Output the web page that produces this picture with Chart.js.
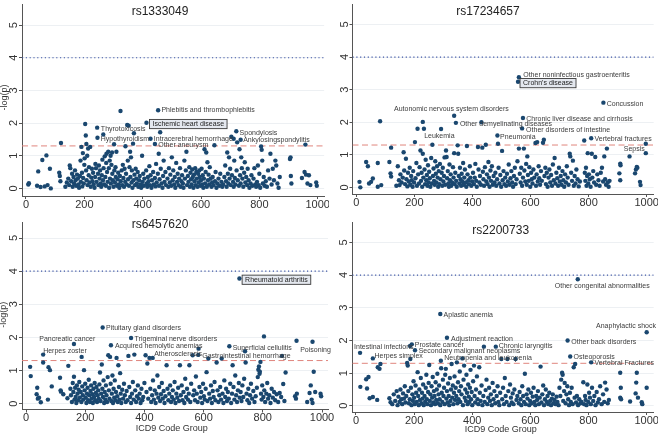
<!DOCTYPE html>
<html>
<head>
<meta charset="utf-8">
<script src="https://cdn.jsdelivr.net/npm/chart.js@4.4.0/dist/chart.umd.min.js"></script>
<style>
  body { margin: 0; background: #fff; width: 658px; height: 436px; overflow: hidden; position: relative; }
  .panel { position: absolute; }
</style>
</head>
<body>
<canvas class="panel" id="c0"></canvas>
<canvas class="panel" id="c1"></canvas>
<canvas class="panel" id="c2"></canvas>
<canvas class="panel" id="c3"></canvas>
<script>
// ---- data ----
const xTicks = [0, 200, 400, 600, 800, 1000];
const yTicks = [0, 1, 2, 3, 4, 5];
const bonferroniLine = 4;
const suggestiveLine = 1.3;

// rs1333049
const rs1333049Points = [
  [8,0.12],[10,0.16],[38,0.08],[42,0.52],[50,0.04],[56,0.87],[64,0.06],[70,1.01],[74,0.1],[82,0.6],[85,0.0],[114,0.48],[116,0.38],[118,0.22],[120,1.39],
  [135,0.05],[140,0.18],[145,0.3],[148,0.1],[150,0.7],[152,0.62],[155,0.22],[158,0.45],[160,0.05],[163,0.35],[165,0.15],[168,0.55],[170,0.25],[172,0.08],[175,0.42],[178,0.3],[180,0.12],[182,0.02],[185,0.38],[187,0.85],[188,0.2],[190,1.27],[192,0.48],[193,0.06],[195,1.08],[196,0.32],[198,0.15],[200,0.72],[201,0.92],[203,1.97],[205,1.62],[206,0.55],[207,1.36],[208,0.25],[210,1.0],[211,0.1],[213,1.22],[215,0.4],[216,0.65],[218,0.18],[220,1.27],[222,0.05],[224,0.33],[226,0.6],[228,0.22],[230,0.48],[232,0.12],[235,0.02],[237,0.35],[238,0.75],[240,0.62],[242,0.2],[247,0.45],[248,0.1],[250,0.7],[252,0.3],[254,0.55],[256,0.15],[258,0.05],[260,0.4],[262,0.88],[264,0.25],[265,1.65],[266,0.62],[268,0.12],[270,0.98],[272,0.35],[274,0.08],[275,0.78],[276,1.06],[278,0.5],[280,0.2],[282,1.12],[284,0.62],[285,0.02],[287,0.85],[288,0.3],[290,1.0],[291,0.15],[293,0.72],[295,1.1],[296,0.45],[298,0.25],[300,0.05],[302,1.35],[303,0.55],[305,0.18],[307,0.65],[308,0.35],[310,1.12],[312,0.08],[314,0.28],[316,0.48],[318,0.12],
  [320,0.02],[322,0.38],[324,2.37],[325,0.22],[328,0.55],[330,0.1],[332,0.72],[334,0.32],[336,0.05],[338,0.6],[340,0.2],[341,1.29],[343,0.45],[345,0.12],[347,1.94],[349,0.85],[350,0.28],[352,1.92],[353,0.08],[355,0.65],[357,1.12],[358,0.35],[360,0.95],[362,0.18],[363,0.55],[365,0.02],[367,1.37],[368,0.25],[370,1.69],[372,0.42],[374,0.1],[376,0.6],[378,0.3],[380,0.15],[383,0.5],[385,0.05],[388,0.25],[390,0.38],[393,0.12],[395,0.02],[398,1.0],[400,0.2],[402,0.45],[404,0.08],[406,0.3],[412,0.55],[414,0.15],[416,0.05],[418,0.35],[420,0.22],[423,0.68],[425,0.1],[427,0.4],[430,0.02],[432,0.25],[436,0.5],[438,0.12],[442,0.32],[444,0.06],[446,0.75],[448,0.18],[452,0.45],[455,1.06],[456,0.08],[458,0.28],[460,1.72],[462,0.6],[465,0.15],[468,0.02],[470,0.38],[472,0.85],[475,0.2],[478,0.5],[480,0.1],
  [485,0.3],[488,0.05],[490,0.62],[493,0.18],[495,0.42],[498,0.08],[500,0.95],[503,0.25],[505,0.55],[508,0.12],[510,0.35],[512,0.02],[515,0.78],[518,0.2],[520,0.45],[523,0.1],[525,0.3],[528,0.62],[530,0.05],[533,0.22],[535,0.4],[538,0.15],[540,0.02],[543,0.85],[545,0.3],[548,0.55],[550,1.12],[552,0.1],[555,0.38],[557,0.2],[560,0.65],[562,0.05],[564,0.48],[566,0.28],[568,0.12],[570,0.58],[572,0.35],[574,0.02],[576,0.42],[578,0.22],[580,0.62],[582,0.1],[584,0.5],[586,0.3],[588,0.05],[590,0.45],[592,0.18],[594,0.55],[596,0.35],[598,0.08],[600,0.25],[602,0.6],[604,0.12],[606,0.4],[608,0.02],[610,0.3],[612,1.2],[614,0.15],[616,0.5],[618,1.1],[620,0.05],[622,0.8],[624,0.25],[626,0.42],[628,0.12],[630,0.65],[633,0.3],[636,0.05],[638,0.18],[640,0.35],[643,0.1],[646,1.32],[648,0.22],[650,0.5],[653,0.02],[656,0.15],[660,0.3],[663,0.08],[666,0.45],[670,0.2],[673,0.05],[676,0.12],[680,0.35],[683,0.7],[686,0.22],[688,0.05],[690,1.1],[692,0.45],[694,0.15],[696,0.95],[698,0.3],[700,0.6],[702,0.1],[704,1.58],[706,0.4],[710,0.2],[712,1.52],[712,0.05],
  [714,0.85],[716,0.32],[718,0.12],[722,0.55],[724,1.41],[726,0.25],[730,0.08],[732,1.2],[734,0.4],[736,0.15],[738,0.95],[740,0.62],[742,0.3],[745,0.05],[748,0.48],[750,0.8],[752,0.18],[755,0.35],[758,0.1],[760,0.6],[763,0.25],[766,0.02],[770,0.15],[773,0.4],[776,0.08],[780,0.3],[783,0.62],[786,0.12],[789,0.05],[792,0.2],[795,0.7],[798,0.1],[800,0.45],[803,0.02],[806,1.28],[808,1.18],[810,0.85],[812,0.15],[815,0.35],[818,0.08],[822,0.22],[826,0.05],[830,0.55],[835,0.3],[838,1.06],[842,0.12],[846,0.6],[850,0.25],[855,0.85],[858,0.7],[862,0.15],[866,0.02],[870,0.35],[905,0.9],[907,0.95],[908,0.38],[910,0.15],[946,0.32],[955,0.5],[958,1.34],[960,0.42],[965,0.15],[970,0.4],[975,0.1],[995,0.18],[997,0.08]
];
const rs1333049Hits = [
  { name: 'Phlebitis and thrombophlebitis', x: 453, y: 2.39 },
  { name: 'Ischemic heart disease', x: 413, y: 2.01 },
  { name: 'Thyrotoxicosis', x: 244, y: 1.86 },
  { name: 'Hypothyroidism', x: 245, y: 1.55 },
  { name: 'Intracerebral hemorrhage', x: 427, y: 1.52 },
  { name: 'Other aneurysm', x: 442, y: 1.36 },
  { name: 'Spondylosis', x: 721, y: 1.75 },
  { name: 'Ankylosingspondylitis', x: 736, y: 1.49 }
];

// rs17234657
const rs17234657Points = [
  [11,0.17],[14,0.0],[34,0.78],[40,0.65],[44,0.12],[51,0.17],[57,0.27],[74,0.75],[74,0.02],[82,2.03],[86,0.07],[114,0.78],[118,0.43],[120,1.22],[120,0.33],
  [138,0.05],[143,0.65],[147,0.22],[149,0.07],[152,0.4],[156,0.15],[160,0.3],[163,1.08],[165,0.52],[168,0.1],[171,0.88],[173,0.25],[176,0.03],[178,0.45],[181,0.18],[184,0.6],[186,0.08],[189,0.35],[191,0.22],[194,0.02],[196,0.5],[199,0.15],[202,1.39],[204,0.28],[207,0.75],[209,0.05],[211,1.8],[213,0.4],[216,0.12],[218,0.62],[221,1.13],[223,0.2],[225,0.45],[227,0.02],[229,2.01],[229,1.03],[231,0.3],[233,1.8],[235,0.55],[237,0.1],[239,0.85],[241,0.22],[243,0.38],[245,0.05],[247,0.68],[249,0.15],[251,0.48],[253,0.28],[255,0.02],[258,0.9],[260,0.12],[264,0.35],[266,0.58],[268,0.2],[270,0.08],[272,0.8],[274,0.42],[276,0.15],[278,0.65],[280,0.3],[282,0.02],[284,0.5],[286,0.1],[288,0.72],[290,0.25],[292,1.79],[294,0.45],[296,0.05],[298,0.6],[300,0.18],[302,0.35],[304,0.92],[306,0.08],[309,1.13],[311,0.93],[313,0.28],[315,0.5],[317,0.12],[319,0.02],[321,0.7],[323,0.22],[325,0.4],[327,0.05],[330,0.15],[333,0.62],[335,0.3],[337,1.05],[339,0.1],[341,0.45],[344,0.2],[346,0.02],[349,1.29],[351,1.03],[353,0.35],[355,0.12],[357,0.6],[359,0.25],[361,0.05],[363,0.42],[365,0.18],[368,0.75],[370,0.08],[372,0.3],[374,0.55],[377,0.15],[379,0.02],[381,1.27],[383,0.4],[386,0.22],[388,0.1],[391,0.65],[393,0.3],[396,0.05],[399,0.18],
  [402,0.45],[405,0.1],[408,0.3],[410,0.72],[413,0.2],[415,0.02],[419,1.24],[421,0.55],[424,0.15],[426,0.35],[429,0.08],[431,2.0],[434,1.22],[436,0.48],[438,0.25],[440,0.05],[443,0.62],[446,1.31],[448,0.18],[450,0.4],[452,0.1],[455,0.78],[457,0.3],[459,0.02],[462,0.52],[464,0.2],[467,0.65],[470,0.08],[473,0.35],[476,0.15],[479,0.45],[482,0.05],[485,0.25],[488,1.34],[490,0.6],[493,0.12],[496,0.38],[499,0.02],[502,1.12],[504,0.22],[507,0.5],[510,0.1],[513,0.3],[516,0.05],[519,0.42],[522,0.18],[525,0.7],[528,0.08],[531,0.28],[534,0.5],[537,0.15],[540,0.02],[543,0.35],[546,0.6],[549,0.1],[552,0.25],[555,0.8],
  [560,1.19],[563,0.42],[566,0.15],[568,0.6],[571,0.05],[574,0.3],[577,1.19],[579,0.52],[582,0.18],[585,0.72],[587,0.08],[589,0.95],[591,0.38],[594,0.2],[596,0.62],[599,0.02],[602,0.45],[604,0.25],[607,0.12],[610,0.55],[613,0.3],[617,1.36],[619,0.05],[621,0.4],[623,1.39],[625,0.18],[628,0.65],[630,0.28],[633,0.08],[636,0.5],[639,0.2],[643,1.37],[646,1.46],[648,0.35],[651,0.6],[653,0.1],[656,0.45],[659,0.02],[662,0.3],[665,0.55],[668,0.15],[671,0.38],[674,0.05],[677,0.7],[680,0.22],[683,0.9],[686,0.12],[689,0.45],[692,0.28],[695,0.05],[698,0.6],[701,0.18],[704,0.35],[707,0.08],[710,0.5],[713,0.22],[716,0.02],[719,0.4],[722,0.15],[725,0.65],[728,0.3],[731,0.08],[735,1.03],[737,0.95],[740,0.45],[743,0.2],[746,0.82],[749,0.05],[752,0.35],[755,0.12],[758,0.55],[762,0.25],[766,0.03],[770,0.18],
  [785,1.44],[787,0.45],[789,0.2],[791,0.6],[793,0.05],[795,0.35],[797,1.05],[799,0.12],[801,0.4],[804,0.25],[807,0.02],[811,1.03],[813,0.3],[816,0.5],[819,0.15],[823,0.93],[826,0.08],[830,0.4],[834,0.22],[838,0.05],[842,0.45],[846,0.6],[850,0.18],[854,0.95],[857,0.25],[860,0.08],[863,1.19],[866,0.15],[869,0.02],[872,0.2],[906,0.43],[909,0.73],[910,0.68],[909,0.22],[941,0.95],[960,0.43],[963,0.55],[966,0.63],[968,0.6],[977,0.17],[979,0.07],[997,1.05]
];
const rs17234657Hits = [
  { name: 'Other noninfectious gastroenteritis', x: 560, y: 3.38 },
  { name: "Crohn's disease", x: 557, y: 3.24 },
  { name: 'Concussion', x: 851, y: 2.6 },
  { name: 'Autonomic nervous system disorders', x: 337, y: 2.2 },
  { name: 'Other demyelinating diseases', x: 343, y: 1.98 },
  { name: 'Chronic liver disease and cirrhosis', x: 574, y: 2.13 },
  { name: 'Other disorders of intestine', x: 571, y: 1.81 },
  { name: 'Leukemia', x: 262, y: 1.31 },
  { name: 'Pneumonia', x: 486, y: 1.59 },
  { name: 'Vertebral fractures', x: 809, y: 1.51 },
  { name: 'Sepsis', x: 997, y: 1.34 }
];

// rs6457620
const rs6457620Points = [
  [14,1.11],[16,0.83],[36,0.28],[38,0.48],[40,0.15],[44,0.18],[50,0.04],[58,1.24],[74,0.12],[76,1.1],[81,1.01],[87,0.52],[115,0.78],[117,0.4],[118,0.36],[126,0.28],[140,0.16],[143,1.14],
  [150,0.45],[152,0.25],[155,0.05],[158,0.62],[160,0.35],[162,0.81],[164,0.12],[166,0.48],[168,0.2],[170,0.02],[172,0.55],[174,0.3],[176,0.1],[178,0.42],[180,0.65],[182,0.18],[185,0.35],[187,0.05],[188,1.41],[190,0.52],[192,0.25],[194,0.12],[196,1.01],[198,0.4],[200,0.6],[202,0.18],[204,0.02],[206,0.3],[208,0.48],[210,0.1],[212,0.72],[214,0.25],[216,0.05],[218,0.38],[220,0.55],[222,0.15],[224,0.28],[226,0.02],[228,0.45],[230,0.2],[232,0.62],[234,0.1],[236,0.32],[238,0.5],[240,0.05],[242,0.25],[244,0.4],[246,0.15],[248,0.58],[250,0.94],[252,0.08],[254,0.3],[256,1.18],[258,0.45],[260,0.2],[262,0.7],[264,0.02],[266,0.35],[268,0.12],[270,0.55],[272,0.25],[274,0.05],[276,0.8],[278,1.46],[280,0.4],[282,0.15],[284,1.41],[286,0.6],[288,0.08],[290,0.3],[292,0.85],[294,0.02],[296,0.45],[298,0.18],[300,0.7],[302,0.1],[304,0.35],[306,1.38],[308,0.22],[310,0.05],[312,1.16],[314,0.5],[316,0.12],[318,0.92],[320,0.3],[322,0.02],[325,0.42],[328,0.15],[331,0.6],[334,0.25],[337,0.05],[340,0.38],[343,0.1],[346,1.44],[349,0.5],[352,0.2],[355,0.02],[358,0.3],[361,0.65],[364,0.12],[366,1.48],[369,0.4],[372,0.05],[375,0.22],[378,0.55],[381,0.15],[384,0.3],[387,0.02],[390,0.45],[393,0.1],[396,0.2],[400,0.62],
  [404,1.46],[407,0.35],[410,1.21],[413,0.15],[417,1.38],[420,0.45],[423,0.05],[426,0.25],[429,0.7],[432,0.12],[435,0.4],[438,0.02],[441,0.3],[444,0.85],[447,0.18],[450,0.5],[453,0.08],[456,0.28],[459,0.62],[462,0.15],[465,0.38],[468,0.02],[471,0.22],[475,1.16],[478,0.45],[481,0.1],[484,0.3],[487,0.55],[490,0.05],[493,0.2],[496,0.4],[499,0.12],[502,0.65],[505,0.02],[508,0.3],[511,0.18],[514,0.48],[517,0.08],[520,1.16],[523,0.25],[526,0.55],[529,0.1],[532,0.35],[535,0.02],[538,0.75],[541,0.2],[544,0.45],[547,0.12],[550,0.3],[552,1.16],[555,0.05],[558,0.6],
  [563,1.46],[565,0.25],[568,0.4],[571,0.1],[574,0.82],[577,0.3],[580,0.05],[583,1.66],[586,0.5],[589,0.18],[592,0.35],[595,0.02],[598,0.6],[601,0.22],[604,0.12],[607,0.45],[610,0.95],[613,0.08],[616,1.36],[619,0.3],[622,0.15],[625,0.55],[628,0.02],[631,0.38],[634,0.2],[637,0.65],[640,0.1],[644,1.24],[647,0.4],[650,0.05],[653,0.25],[656,0.5],[659,0.12],[661,1.36],[664,0.3],[667,0.02],[670,0.7],[673,0.2],[676,0.45],[679,0.08],[682,0.35],[685,0.15],[690,0.6],[693,0.02],[696,0.3],[698,1.16],[701,0.5],[704,0.12],[707,0.85],[710,0.25],[713,0.05],[716,0.4],[719,0.62],[722,0.18],[725,0.35],[728,0.08],[731,0.55],[734,0.2],[737,0.75],[740,1.58],[742,1.24],[745,0.3],[748,0.1],[751,0.45],[754,0.02],[757,0.25],[760,0.6],[764,0.15],[768,0.38],[772,0.05],[776,0.22],[780,0.48],[783,0.8],[785,1.02],[787,1.12],[789,0.9],[790,0.96],[792,1.26],[794,0.3],[796,0.12],[798,0.55],
  [802,0.2],[804,2.03],[805,0.4],[808,0.05],[812,0.3],[815,0.62],[818,0.15],[822,0.25],[826,0.02],[830,0.45],[834,0.18],[838,0.35],[842,0.1],[847,0.28],[852,0.05],[857,0.32],[862,0.2],[865,1.44],[869,0.59],[873,0.08],[877,0.94],[909,0.22],[912,0.15],[914,1.9],[915,0.3],[950,0.05],[958,0.32],[962,0.55],[965,0.12],[968,0.02],[972,0.96],[977,0.35],[995,0.3],[997,0.22]
];
const rs6457620Hits = [
  { name: 'Rheumatoid arthritis', x: 721, y: 3.78 },
  { name: 'Pituitary gland disorders', x: 259, y: 2.3 },
  { name: 'Pancreatic cancer', x: 162, y: 1.8 },
  { name: 'Herpes zoster', x: 58, y: 1.48 },
  { name: 'Trigeminal nerve disorders', x: 355, y: 1.98 },
  { name: 'Acquired hemolytic anemias', x: 287, y: 1.76 },
  { name: 'Atherosclerosis', x: 428, y: 1.38 },
  { name: 'Gastrointestinal hemorrhage', x: 582, y: 1.47 },
  { name: 'Superficial cellulitis', x: 687, y: 1.73 },
  { name: 'Poisoning', x: 968, y: 1.87 }
];

// rs2200733
const rs2200733Points = [
  [15,0.58],[35,0.81],[38,0.53],[43,0.88],[47,0.23],[58,0.27],[73,0.18],[75,1.18],[81,1.13],[84,1.28],[115,0.23],[119,0.11],
  [125,0.05],[130,0.35],[135,0.15],[140,0.45],[143,0.02],[146,0.28],[150,0.12],[153,0.5],[156,0.2],[159,0.05],[162,0.38],[165,0.22],[168,0.6],[170,0.1],[173,0.3],[176,1.31],[178,1.23],[180,0.45],[182,0.08],[185,0.2],[186,1.83],[187,1.43],[189,0.55],[191,0.02],[194,0.35],[196,0.15],[198,0.75],[200,0.25],[202,0.05],[205,0.62],[207,0.4],[209,0.12],[212,1.03],[214,0.3],[216,0.02],[218,0.5],[220,0.18],[223,0.85],[225,0.08],[227,0.4],[229,0.22],[231,0.65],[233,0.02],[236,0.3],[238,0.12],[240,0.55],[242,0.95],[244,0.2],[246,0.05],[248,0.42],[250,0.7],[252,1.25],[254,0.15],[256,0.35],[258,0.02],[260,0.6],[262,0.25],[264,0.88],[266,0.1],[268,0.45],[270,0.3],[272,0.05],[274,0.72],[276,0.18],[278,0.5],[280,0.98],[282,0.08],[284,0.35],[286,0.62],[288,0.2],[290,0.02],[293,1.15],[295,0.4],[297,0.12],[299,0.8],[301,0.3],[303,0.55],[305,0.05],[307,0.95],[309,1.13],[311,0.22],[313,0.45],[315,0.1],[317,0.68],[319,0.3],[321,0.02],[323,0.85],[325,0.15],[327,0.5],[329,1.28],[331,0.25],[333,0.62],[335,0.05],[337,0.4],[339,0.9],[341,0.18],[343,0.55],[345,0.3],[347,1.33],[349,0.08],[351,0.72],[353,0.2],[355,0.45],[357,1.05],[359,0.12],[361,0.6],[363,0.35],[366,1.45],[368,0.02],[370,0.8],[372,1.23],[374,0.25],[376,0.5],[378,0.15],[380,0.95],[382,0.4],[384,0.05],[386,0.65],[388,0.28],[390,0.12],[392,0.55],[394,1.1],[396,0.2],[398,0.42],[400,0.02],
  [403,0.75],[406,1.23],[408,0.3],[410,0.1],[413,0.5],[416,0.9],[418,0.2],[421,0.05],[424,1.18],[426,0.4],[429,0.15],[432,0.62],[435,0.02],[438,0.3],[440,1.81],[443,0.12],[446,0.48],[449,0.8],[452,0.05],[455,0.25],[458,0.55],[461,0.15],[464,0.35],[467,0.02],[470,0.7],[473,0.2],[476,0.45],[479,0.08],[484,0.3],[487,0.6],[490,0.12],[493,0.02],[496,0.4],[500,1.43],[503,0.2],[506,0.55],[509,0.05],[512,0.85],[515,0.3],[518,0.12],[521,1.43],[524,0.45],[527,0.02],[530,0.65],[533,0.25],[536,0.1],[539,0.38],[542,0.05],[545,0.5],[549,1.43],[552,0.18],[555,0.3],
  [560,0.08],[563,0.42],[566,0.2],[569,0.02],[572,0.6],[575,0.3],[578,0.12],[581,0.98],[584,0.05],[587,0.35],[590,0.22],[593,0.5],[596,0.02],[599,0.15],[602,0.4],[605,0.08],[608,0.28],[611,0.55],[614,0.12],[617,0.02],[620,0.3],[623,0.18],[626,0.45],[629,0.05],[632,0.25],[635,1.2],[638,0.1],[641,0.35],[644,0.62],[647,0.02],[650,0.2],[653,0.5],[656,0.12],[659,0.3],[662,0.05],[665,0.4],[668,0.15],[671,0.02],[674,0.22],[677,0.35],[680,0.08],[683,0.18],[687,0.05],[690,0.28],[693,0.12],[697,0.02],[700,0.55],[703,0.3],[706,0.8],[709,1.01],[711,0.95],[713,0.15],[716,0.45],[718,0.7],[721,0.08],[724,0.35],[727,0.6],[730,0.2],[733,0.02],[736,0.4],[739,0.12],[742,0.55],[745,0.05],[749,1.18],[752,0.25],[754,1.28],[757,0.1],[760,0.3],[764,0.02],[768,0.2],[772,0.08],[776,0.12],
  [782,0.72],[785,0.05],[788,0.3],[790,0.18],[793,0.02],[796,0.65],[799,0.12],[802,0.4],[805,0.25],[808,0.05],[812,0.55],[816,0.15],[820,0.3],[824,0.02],[828,0.42],[832,0.1],[836,0.2],[840,0.6],[845,0.05],[850,0.35],[854,0.12],[857,0.71],[862,0.5],[866,0.08],[870,0.18],[909,1.01],[911,0.55],[909,0.25],[912,0.2],[943,0.13],[962,0.38],[964,0.71],[966,1.01],[970,0.25],[983,0.11],[985,0.05],[1000,0.55]
];
const rs2200733Hits = [
  { name: 'Other congenital abnormalities', x: 763, y: 3.87 },
  { name: 'Aplastic anemia', x: 290, y: 2.81 },
  { name: 'Adjustment reaction', x: 313, y: 2.08 },
  { name: 'Anaphylactic shock', x: 1000, y: 2.25 },
  { name: 'Other back disorders', x: 728, y: 2.0 },
  { name: 'Intestinal infections', x: 14, y: 1.62 },
  { name: 'Prostate cancer', x: 192, y: 1.88 },
  { name: 'Secondary malignant neoplasms', x: 203, y: 1.7 },
  { name: 'Herpes simplex', x: 58, y: 1.45 },
  { name: 'Neutropenia and leukopenia', x: 292, y: 1.38 },
  { name: 'Chronic laryngitis', x: 481, y: 1.81 },
  { name: 'Osteoporosis', x: 737, y: 1.51 },
  { name: 'Vertebral Fractures', x: 809, y: 1.33 }
];

// ---- label placement (pixel offsets from the marker, style only) ----
const labelPlacement = {
  'Phlebitis and thrombophlebitis': { align: 'left', dx: 3.3, dy: 0 },
  'Ischemic heart disease': { align: 'left', dx: 6, dy: 1.3, box: true },
  'Thyrotoxicosis': { align: 'left', dx: 3.7, dy: 1.3 },
  'Hypothyroidism': { align: 'left', dx: 3.3, dy: 1 },
  'Intracerebral hemorrhage': { align: 'left', dx: 3.3, dy: 0 },
  'Other aneurysm': { align: 'left', dx: 3.3, dy: 0.7 },
  'Spondylosis': { align: 'left', dx: 3.3, dy: 1.7 },
  'Ankylosingspondylitis': { align: 'left', dx: 2.5, dy: 0 },
  'Other noninfectious gastroenteritis': { align: 'left', dx: 4.3, dy: -2 },
  "Crohn's disease": { align: 'left', dx: 5, dy: 1.3, box: true },
  'Concussion': { align: 'left', dx: 3.3, dy: 1 },
  'Autonomic nervous system disorders': { align: 'center', dx: -2.7, dy: -6.7 },
  'Other demyelinating diseases': { align: 'left', dx: 4, dy: 1.3 },
  'Chronic liver disease and cirrhosis': { align: 'left', dx: 3.3, dy: 1 },
  'Other disorders of intestine': { align: 'left', dx: 4, dy: 1.3 },
  'Leukemia': { align: 'center', dx: 7, dy: -9 },
  'Pneumonia': { align: 'left', dx: 2.7, dy: 1.7 },
  'Vertebral fractures': { align: 'left', dx: 3.3, dy: 1.3 },
  'Sepsis': { align: 'right', dx: -1, dy: 5 },
  'Rheumatoid arthritis': { align: 'left', dx: 5.7, dy: 1.3, box: true },
  'Pituitary gland disorders': { align: 'left', dx: 3.3, dy: 1 },
  'Pancreatic cancer': { align: 'center', dx: -6.7, dy: -5.3 },
  'Herpes zoster': { align: 'left', dx: 0, dy: -4 },
  'Trigeminal nerve disorders': { align: 'left', dx: 3.5, dy: 1 },
  'Acquired hemolytic anemias': { align: 'left', dx: 4, dy: 1 },
  'Atherosclerosis': { align: 'left', dx: 1.5, dy: -4.3 },
  'Gastrointestinal hemorrhage': { align: 'left', dx: 4, dy: 1 },
  'Superficial cellulitis': { align: 'left', dx: 3.3, dy: 1.3 },
  'Poisoning': { align: 'center', dx: 3, dy: 8 },
  'Other congenital abnormalities': { align: 'center', dx: 24.5, dy: 6.5 },
  'Aplastic anemia': { align: 'left', dx: 3.3, dy: 0.7 },
  'Adjustment reaction': { align: 'left', dx: 4, dy: 1 },
  'Anaphylactic shock': { align: 'right', dx: 9.3, dy: -6 },
  'Other back disorders': { align: 'left', dx: 3.7, dy: 1.3 },
  'Intestinal infections': { align: 'left', dx: -6, dy: -6 },
  'Prostate cancer': { align: 'left', dx: 3, dy: 1 },
  'Secondary malignant neoplasms': { align: 'left', dx: 3.7, dy: 0.7 },
  'Herpes simplex': { align: 'left', dx: 1.7, dy: -2.6 },
  'Neutropenia and leukopenia': { align: 'left', dx: 3.4, dy: -2.4 },
  'Chronic laryngitis': { align: 'left', dx: 3, dy: -0.6 },
  'Osteoporosis': { align: 'left', dx: 3.4, dy: 1 },
  'Vertebral Fractures': { align: 'left', dx: 3.4, dy: 1 }
};

// ---- panel layout (canvas-local pixels) ----
const panels = [
  { id: 'c0', title: 'rs1333049', points: rs1333049Points, hits: rs1333049Hits,
    left: 0, top: 0, w: 329, h: 218, area: [22, 325, 2, 196],
    x0: 26, x1000: 318.5, y0: 188.3, y5: 23.3,
    titlePos: [160, 11.7], yTitle: [5, 97.5], xTitle: null },
  { id: 'c1', title: 'rs17234657', points: rs17234657Points, hits: rs17234657Hits,
    left: 329, top: 0, w: 329, h: 218, area: [23.5, 326, 2, 194],
    x0: 27.3, x1000: 319, y0: 187.3, y5: 22.7,
    titlePos: [159, 11.7], yTitle: null, xTitle: null },
  { id: 'c2', title: 'rs6457620', points: rs6457620Points, hits: rs6457620Hits,
    left: 0, top: 218, w: 340, h: 218, area: [22, 328, 1, 191.5],
    x0: 26, x1000: 322, y0: 185.5, y5: 17.3,
    titlePos: [160, 6.7], yTitle: [4, 96.7], xTitle: [171.7, 210.7] },
  { id: 'c3', title: 'rs2200733', points: rs2200733Points, hits: rs2200733Hits,
    left: 329, top: 218, w: 329, h: 218, area: [23.3, 326, 1, 194],
    x0: 27, x1000: 319, y0: 187.7, y5: 21.7,
    titlePos: [171.7, 12.7], yTitle: null, xTitle: [171.7, 212] }
];

const FONT = '"Liberation Sans", Arial, sans-serif';
const MARKER = '#1a476f';
const AXIS = '#555';
const TEXT = '#333';

const panelText = {
  id: 'panelText',
  afterDatasetsDraw(chart) {
    const cfg = chart.options.plugins.panelText;
    const ctx = chart.ctx;
    const xs = chart.scales.x, ys = chart.scales.y;
    ctx.save();
    // rotated y tick labels
    ctx.fillStyle = TEXT;
    ctx.font = '11px ' + FONT;
    ctx.textAlign = 'center';
    ctx.textBaseline = 'middle';
    yTicks.forEach(v => {
      ctx.save();
      ctx.translate(chart.chartArea.left - 8, ys.getPixelForValue(v));
      ctx.rotate(-Math.PI / 2);
      ctx.fillText(String(v), 0, 0);
      ctx.restore();
    });
    // axis titles
    ctx.font = '9px ' + FONT;
    if (cfg.yTitle) {
      ctx.save();
      ctx.translate(cfg.yTitle[0], cfg.yTitle[1]);
      ctx.rotate(-Math.PI / 2);
      ctx.fillText('-log(p)', 0, 0);
      ctx.restore();
    }
    if (cfg.xTitle) {
      ctx.fillText('ICD9 Code Group', cfg.xTitle[0], cfg.xTitle[1]);
    }
    // panel title
    ctx.font = '12px ' + FONT;
    ctx.fillStyle = '#222';
    ctx.fillText(cfg.title, cfg.titlePos[0], cfg.titlePos[1]);
    // phenotype labels
    ctx.font = '7px ' + FONT;
    cfg.hits.forEach(h => {
      const p = labelPlacement[h.name] || { align: 'left', dx: 3.3, dy: 0 };
      const px = xs.getPixelForValue(h.x);
      const py = ys.getPixelForValue(h.y);
      const tx = px + p.dx, ty = py + p.dy;
      ctx.textAlign = p.align;
      if (p.box) {
        const w = ctx.measureText(h.name).width;
        ctx.fillStyle = '#e4e8ef';
        ctx.strokeStyle = '#3a3a3a';
        ctx.lineWidth = 0.9;
        ctx.fillRect(tx - 3, ty - 4.6, w + 6, 9.2);
        ctx.strokeRect(tx - 3, ty - 4.6, w + 6, 9.2);
        ctx.fillStyle = '#222';
      } else {
        ctx.fillStyle = '#3c3c3c';
      }
      ctx.fillText(h.name, tx, ty);
    });
    ctx.restore();
  }
};

panels.forEach(pn => {
  const cv = document.getElementById(pn.id);
  cv.width = pn.w; cv.height = pn.h;
  cv.style.left = pn.left + 'px'; cv.style.top = pn.top + 'px';
  cv.style.width = pn.w + 'px'; cv.style.height = pn.h + 'px';

  const [L, R, T, B] = pn.area;
  const kx = (pn.x1000 - pn.x0) / 1000;
  const ky = (pn.y0 - pn.y5) / 5;
  const xmin = (L - pn.x0) / kx, xmax = (R - pn.x0) / kx;
  const ymax = (pn.y0 - T) / ky, ymin = (pn.y0 - B) / ky;

  const scatter = pn.points.map(p => ({ x: p[0], y: p[1] }))
    .concat(pn.hits.map(h => ({ x: h.x, y: h.y })));

  new Chart(cv, {
    type: 'scatter',
    data: {
      datasets: [
        { data: scatter, backgroundColor: MARKER, borderWidth: 0, pointRadius: 2.2, order: 0 },
        { type: 'line', data: [{ x: xmin, y: bonferroniLine }, { x: xmax, y: bonferroniLine }],
          borderColor: '#3f56a6', borderWidth: 1.2, borderDash: [1.2, 2.6], pointRadius: 0, order: 2 },
        { type: 'line', data: [{ x: xmin, y: suggestiveLine }, { x: xmax, y: suggestiveLine }],
          borderColor: '#e0857d', borderWidth: 1, borderDash: [6, 3.5], pointRadius: 0, order: 2 }
      ]
    },
    options: {
      responsive: false,
      animation: false,
      devicePixelRatio: 1,
      layout: { padding: { top: T, right: pn.w - R, left: 0, bottom: 0 } },
      plugins: {
        legend: { display: false },
        tooltip: { enabled: false },
        panelText: { title: pn.title, titlePos: pn.titlePos, yTitle: pn.yTitle, xTitle: pn.xTitle, hits: pn.hits }
      },
      scales: {
        x: {
          type: 'linear', min: xmin, max: xmax,
          afterBuildTicks: s => { s.ticks = xTicks.map(v => ({ value: v })); },
          afterFit: s => { s.height = pn.h - B; },
          grid: { drawOnChartArea: false, tickLength: 3, tickColor: AXIS },
          border: { color: AXIS, width: 1 },
          ticks: { color: TEXT, font: { size: 11, family: FONT }, padding: -1, maxRotation: 0,
                   callback: v => String(v) }
        },
        y: {
          type: 'linear', min: ymin, max: ymax,
          afterBuildTicks: s => { s.ticks = yTicks.map(v => ({ value: v })); },
          afterFit: s => { s.width = L; },
          grid: { color: '#edf0f3', lineWidth: 1, tickLength: 3, tickColor: AXIS },
          border: { color: AXIS, width: 1 },
          ticks: { display: false }
        }
      }
    },
    plugins: [panelText]
  });
});
</script>
</body>
</html>
